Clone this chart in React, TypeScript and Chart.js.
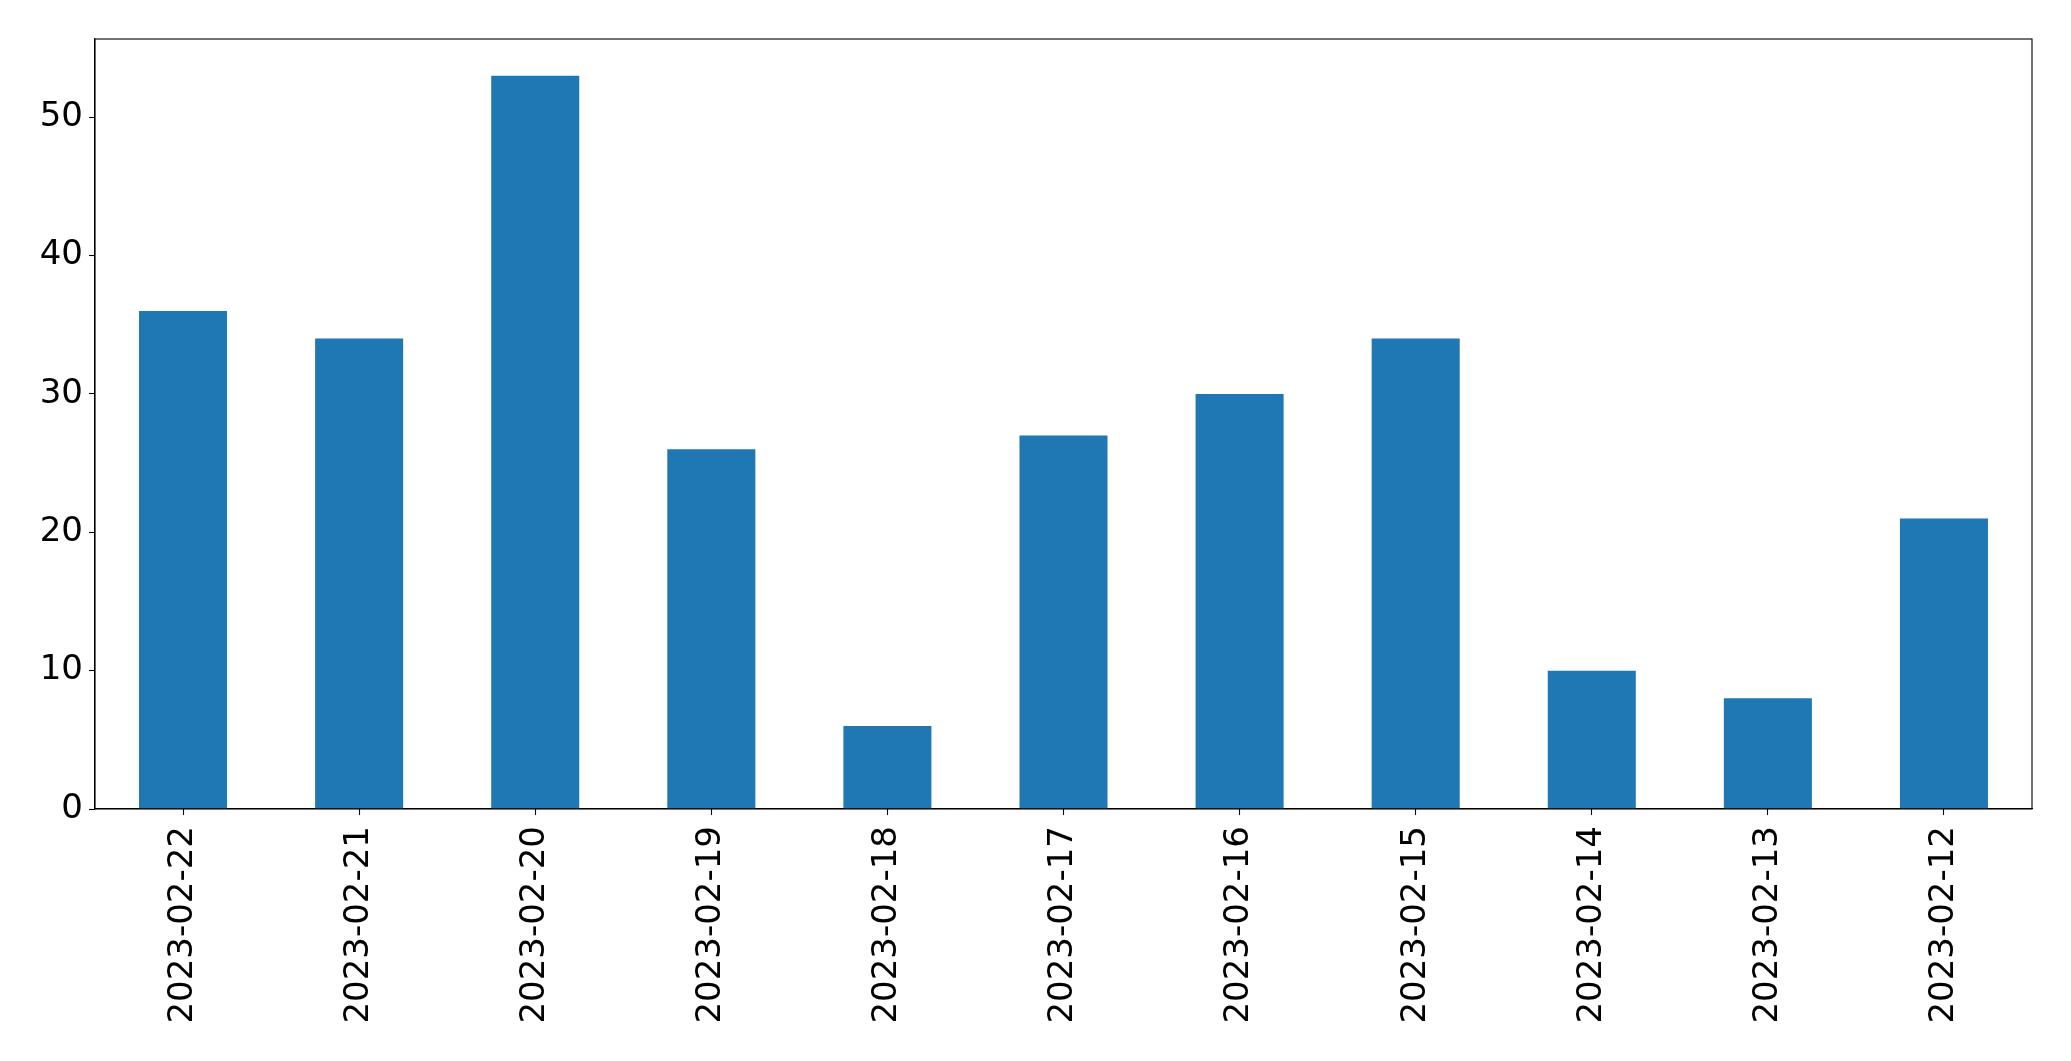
import React, { useEffect, useRef } from "react";
import { Chart, registerables } from "chart.js";

Chart.register(...registerables);

const categories = [
  "2023-02-22",
  "2023-02-21",
  "2023-02-20",
  "2023-02-19",
  "2023-02-18",
  "2023-02-17",
  "2023-02-16",
  "2023-02-15",
  "2023-02-14",
  "2023-02-13",
  "2023-02-12",
];
const values = [36, 34, 53, 26, 6, 27, 30, 34, 10, 8, 21];
const yTicks = [0, 10, 20, 30, 40, 50];
const yMax = 55.65;

const W = 2071;
const H = 1061;
const FONT = "'DejaVu Sans', sans-serif";

const framePlugin = {
  id: "frame",
  afterDraw(chart: any) {
    const { ctx, chartArea } = chart;
    ctx.save();
    ctx.strokeStyle = "#000";
    ctx.lineWidth = 1.1;
    ctx.strokeRect(
      chartArea.left,
      chartArea.top,
      chartArea.right - chartArea.left,
      chartArea.bottom - chartArea.top
    );
    ctx.restore();
  },
};

export default function App() {
  const ref = useRef<HTMLCanvasElement | null>(null);

  useEffect(() => {
    if (!ref.current) return;
    const chart = new Chart(ref.current, {
      type: "bar",
      data: {
        labels: categories,
        datasets: [
          {
            data: values,
            backgroundColor: "#1f77b4",
            borderWidth: 0,
            barPercentage: 0.5,
            categoryPercentage: 1,
          },
        ],
      },
      options: {
        responsive: false,
        animation: false,
        devicePixelRatio: 1,
        layout: { padding: { left: 0, top: 39, right: 39, bottom: 0 } },
        plugins: {
          legend: { display: false },
          tooltip: { enabled: false },
          title: { display: false },
        },
        scales: {
          x: {
            offset: true,
            grid: {
              display: true,
              drawOnChartArea: false,
              drawTicks: true,
              tickLength: 6,
              tickWidth: 1.1,
              color: "#000",
              offset: false,
            },
            border: { display: true, color: "#000", width: 1.1 },
            ticks: {
              minRotation: 90,
              maxRotation: 90,
              autoSkip: false,
              padding: 11,
              color: "#000",
              font: { family: FONT, size: 34 },
            },
            afterFit(scale: any) {
              scale.height = 252;
            },
          },
          y: {
            min: 0,
            max: yMax,
            grid: {
              display: true,
              drawOnChartArea: false,
              drawTicks: true,
              tickLength: 6,
              tickWidth: 1.1,
              color: "#000",
            },
            border: { display: true, color: "#000", width: 1.1 },
            ticks: {
              includeBounds: false,
              stepSize: 10,
              padding: 6,
              color: "#000",
              font: { family: FONT, size: 34 },
            },
            afterBuildTicks(scale: any) {
              scale.ticks = yTicks.map((v) => ({ value: v }));
            },
            afterFit(scale: any) {
              scale.width = 95;
            },
          },
        },
      },
      plugins: [framePlugin],
    });
    return () => chart.destroy();
  }, []);

  return (
    <div
      style={{
        position: "fixed",
        left: 0,
        top: 0,
        width: W,
        height: H,
        background: "#fff",
      }}
    >
      <canvas ref={ref} width={W} height={H} style={{ width: W, height: H }} />
    </div>
  );
}
